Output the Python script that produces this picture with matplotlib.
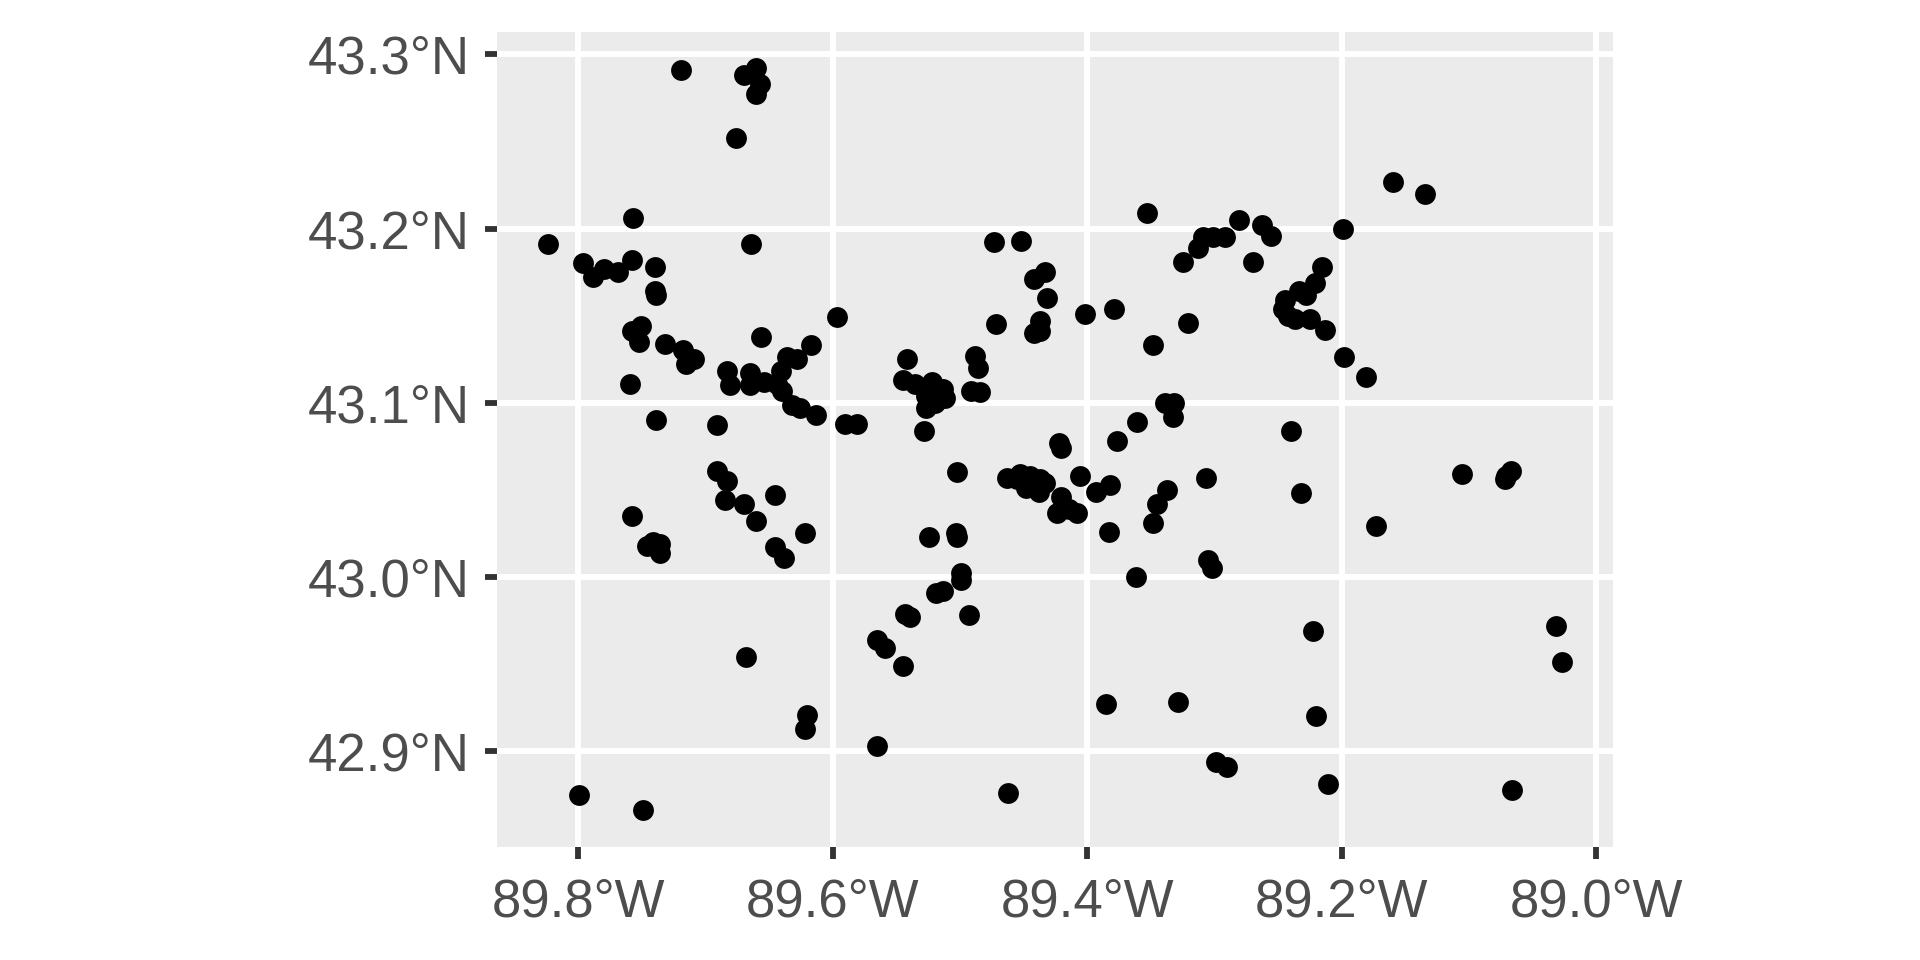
import matplotlib
matplotlib.use("Agg")
import matplotlib.pyplot as plt
from matplotlib.ticker import FixedLocator

plt.rcParams['font.family'] = ['Liberation Sans', 'DejaVu Sans']

# Point locations (longitude negative = West, latitude North)
lon = [
    -89.719, -89.670, -89.660, -89.657, -89.660, -89.676, -89.757, -89.824, -89.664, -89.796,
    -89.788, -89.780, -89.769, -89.758, -89.740, -89.740, -89.739, -89.751, -89.758, -89.752,
    -89.732, -89.718, -89.709, -89.715, -89.759, -89.597, -89.656, -89.617, -89.628, -89.636,
    -89.641, -89.683, -89.665, -89.681, -89.665, -89.654, -89.644, -89.640, -89.632, -89.626,
    -89.613, -89.739, -89.691, -89.590, -89.581,
    -89.353, -89.473, -89.452, -89.433, -89.442, -89.432, -89.437, -89.442, -89.437, -89.472,
    -89.402, -89.379, -89.325, -89.313, -89.309, -89.301, -89.292, -89.281, -89.321, -89.348,
    -89.542, -89.488, -89.486, -89.491, -89.484, -89.545, -89.535, -89.522, -89.513, -89.512,
    -89.527, -89.520, -89.527, -89.528, -89.339, -89.332, -89.333, -89.361,
    -89.160, -89.135, -89.263, -89.256, -89.199, -89.270, -89.216, -89.221, -89.228, -89.234,
    -89.245, -89.246, -89.242, -89.237, -89.225, -89.213, -89.198, -89.181, -89.240,
    -89.691, -89.683, -89.685, -89.670, -89.645, -89.660, -89.758, -89.741, -89.746, -89.736,
    -89.736, -89.622, -89.645, -89.638, -89.668, -89.620, -89.622, -89.799, -89.749,
    -89.422, -89.421, -89.377, -89.502, -89.463, -89.453, -89.445, -89.437, -89.433, -89.448,
    -89.438, -89.455, -89.421, -89.424, -89.408, -89.414, -89.406, -89.393, -89.382, -89.337,
    -89.345, -89.348, -89.307, -89.383, -89.305, -89.302, -89.362, -89.524, -89.503, -89.502,
    -89.499, -89.499, -89.513, -89.519, -89.543, -89.539, -89.493, -89.565, -89.559, -89.545,
    -89.385, -89.329, -89.565, -89.299, -89.290, -89.462,
    -89.232, -89.173, -89.106, -89.071, -89.067, -89.072, -89.223, -89.032, -89.027, -89.220,
    -89.211, -89.066,
]
lat = [
    43.291, 43.288, 43.292, 43.283, 43.277, 43.252, 43.206, 43.191, 43.191, 43.180,
    43.172, 43.177, 43.175, 43.182, 43.178, 43.164, 43.162, 43.144, 43.141, 43.135,
    43.134, 43.130, 43.125, 43.122, 43.111, 43.149, 43.138, 43.133, 43.125, 43.126,
    43.118, 43.118, 43.117, 43.110, 43.110, 43.112, 43.111, 43.107, 43.099, 43.097,
    43.093, 43.090, 43.087, 43.088, 43.088,
    43.209, 43.192, 43.193, 43.175, 43.171, 43.160, 43.147, 43.140, 43.141, 43.145,
    43.151, 43.154, 43.181, 43.189, 43.195, 43.195, 43.195, 43.205, 43.146, 43.133,
    43.125, 43.127, 43.120, 43.107, 43.106, 43.113, 43.111, 43.112, 43.108, 43.103,
    43.097, 43.100, 43.104, 43.084, 43.100, 43.100, 43.092, 43.089,
    43.227, 43.220, 43.202, 43.196, 43.200, 43.181, 43.178, 43.169, 43.162, 43.164,
    43.159, 43.154, 43.150, 43.148, 43.148, 43.142, 43.126, 43.115, 43.084,
    43.061, 43.055, 43.044, 43.042, 43.047, 43.032, 43.035, 43.020, 43.018, 43.019,
    43.014, 43.025, 43.017, 43.011, 42.954, 42.921, 42.913, 42.875, 42.866,
    43.077, 43.074, 43.078, 43.060, 43.057, 43.059, 43.058, 43.056, 43.054, 43.051,
    43.049, 43.056, 43.046, 43.037, 43.037, 43.039, 43.058, 43.049, 43.053, 43.050,
    43.042, 43.031, 43.057, 43.026, 43.010, 43.005, 43.000, 43.023, 43.025, 43.023,
    43.002, 42.998, 42.992, 42.991, 42.979, 42.977, 42.978, 42.964, 42.959, 42.949,
    42.927, 42.928, 42.903, 42.894, 42.891, 42.876,
    43.048, 43.029, 43.059, 43.058, 43.061, 43.056, 42.969, 42.972, 42.951, 42.920,
    42.881, 42.878,
]

x_ticks = [-89.8, -89.6, -89.4, -89.2, -89.0]
x_labels = ["89.8°W", "89.6°W", "89.4°W", "89.2°W", "89.0°W"]
y_ticks = [42.9, 43.0, 43.1, 43.2, 43.3]
y_labels = ["42.9°N", "43.0°N", "43.1°N", "43.2°N", "43.3°N"]

fig = plt.figure(figsize=(19.2, 9.6), dpi=100)
ax = fig.add_axes([0.2587, 0.1177, 0.5814, 0.8493])
ax.set_facecolor('#EBEBEB')

ax.scatter(lon, lat, s=225, c='black', linewidths=0, zorder=3)

ax.set_xlim(-89.864, -88.987)
ax.set_ylim(42.845, 43.313)

ax.xaxis.set_major_locator(FixedLocator(x_ticks))
ax.yaxis.set_major_locator(FixedLocator(y_ticks))
ax.set_xticklabels(x_labels)
ax.set_yticklabels(y_labels)

ax.grid(True, color='white', linewidth=4.3, zorder=1)
ax.set_axisbelow(True)
for sp in ax.spines.values():
    sp.set_visible(False)

ax.tick_params(axis='both', which='major', length=8.3, width=4.2, color='#333333',
               labelsize=38, labelcolor='#4D4D4D')
ax.tick_params(axis='x', pad=14)
ax.tick_params(axis='y', pad=11)

fig.savefig('out.png', dpi=100)
